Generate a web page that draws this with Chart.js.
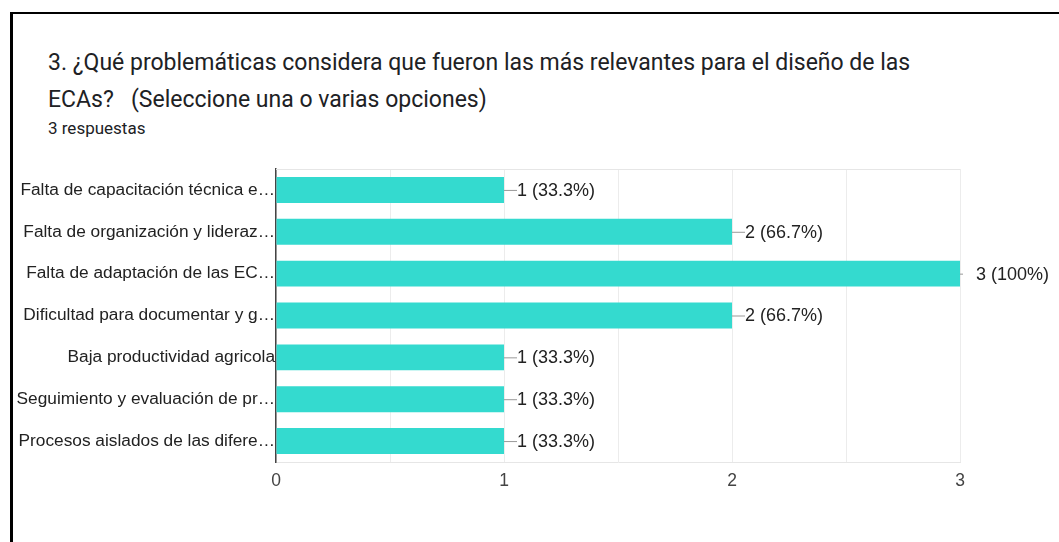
<!DOCTYPE html>
<html>
<head>
<meta charset="utf-8">
<script src="https://cdn.jsdelivr.net/npm/chart.js@4.4.1/dist/chart.umd.min.js"></script>
<style>
  body { margin: 0; background: #fff; width: 1059px; height: 542px; overflow: hidden; position: relative; }
  .marco { position: absolute; left: 10px; top: 12px; right: 0; bottom: 0; border-top: 2px solid #000; border-left: 3px solid #000; }
  .titulo { position: absolute; left: 48px; top: 44px; font-family: Roboto, sans-serif; font-size: 23px; line-height: 37px; color: #202124; }
  .respuestas { position: absolute; left: 48px; top: 118px; font-family: Roboto, sans-serif; font-size: 17px; color: #202124; }
  #grafico { position: absolute; left: 0; top: 150px; }
</style>
</head>
<body>
<div class="marco"></div>
<div class="titulo">3. ¿Qué problemáticas considera que fueron las más relevantes para el diseño de las<br>ECAs? &nbsp;&nbsp;(Seleccione una o varias opciones)</div>
<div class="respuestas">3 respuestas</div>
<canvas id="grafico" width="1059" height="360"></canvas>
<script>
// Datos del gráfico
const categorias = [
    "Falta de capacitación técnica e…",
    "Falta de organización y lideraz…",
    "Falta de adaptación de las EC…",
    "Dificultad para documentar y g…",
    "Baja productividad agricola",
    "Seguimiento y evaluación de pr…",
    "Procesos aislados de las difere…"
];
const valores = [1, 2, 3, 2, 1, 1, 1];
const etiquetasValor = ["1 (33.3%)", "2 (66.7%)", "3 (100%)", "2 (66.7%)", "1 (33.3%)", "1 (33.3%)", "1 (33.3%)"];
const ticksX = [0, 1, 2, 3];

const fuenteEjes = '"Liberation Sans", Arial, sans-serif';

// Etiquetas con línea guía al final de cada barra + borde superior del área
const pluginEtiquetas = {
    id: 'etiquetas',
    afterDatasetsDraw(chart) {
        const ctx = chart.ctx;
        const area = chart.chartArea;
        ctx.save();
        ctx.strokeStyle = '#e6e6e6';
        ctx.lineWidth = 1;
        ctx.beginPath();
        ctx.moveTo(area.left, area.top + 0.5);
        ctx.lineTo(area.right, area.top + 0.5);
        ctx.stroke();

        const meta = chart.getDatasetMeta(0);
        ctx.font = '18px ' + fuenteEjes;
        ctx.fillStyle = '#222';
        ctx.textBaseline = 'middle';
        meta.data.forEach((barra, i) => {
            const x = barra.x, y = barra.y;
            ctx.strokeStyle = '#999';
            ctx.beginPath();
            if (x >= area.right - 1) {
                ctx.moveTo(x, y + 0.5);
                ctx.lineTo(x + 3, y + 0.5);
                ctx.stroke();
                ctx.fillText(etiquetasValor[i], x + 16, y + 1);
            } else {
                ctx.moveTo(x, y + 0.5);
                ctx.lineTo(x + 13, y + 0.5);
                ctx.stroke();
                ctx.fillText(etiquetasValor[i], x + 13, y + 1);
            }
        });
        ctx.restore();
    }
};

new Chart(document.getElementById('grafico'), {
    type: 'bar',
    data: {
        labels: categorias,
        datasets: [{
            data: valores,
            backgroundColor: '#34dacf',
            barPercentage: 0.62,
            categoryPercentage: 1
        }]
    },
    options: {
        indexAxis: 'y',
        responsive: false,
        animation: false,
        layout: { padding: { top: 19, right: 99, left: 0, bottom: 0 } },
        plugins: { legend: { display: false }, tooltip: { enabled: false } },
        scales: {
            x: {
                min: 0, max: 3,
                afterFit: (s) => { s.height = 48; },
                afterBuildTicks: (s) => { s.ticks = [0, 0.5, 1, 1.5, 2, 2.5, 3].map(v => ({ value: v })); },
                ticks: {
                    padding: 9,
                    color: '#444',
                    font: { family: fuenteEjes, size: 17.5 },
                    callback: (v) => ticksX.includes(v) ? String(v) : ''
                },
                grid: { color: '#ececec', drawTicks: false },
                border: { color: '#e6e6e6' }
            },
            y: {
                afterFit: (s) => { s.width = 276; },
                ticks: { padding: 1, color: '#222', font: { family: fuenteEjes, size: 17.3 } },
                grid: { display: false, drawTicks: false },
                border: { color: '#444', width: 1.5 }
            }
        }
    },
    plugins: [pluginEtiquetas]
});
</script>
</body>
</html>
